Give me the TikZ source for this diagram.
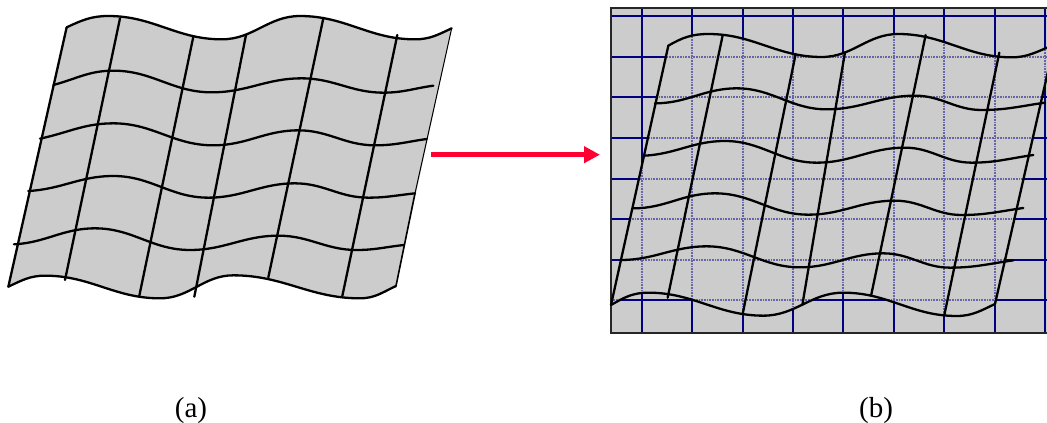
\documentclass[tikz,border=0pt]{standalone}
\usepackage{fontspec}
\setmainfont{Liberation Serif}
\usetikzlibrary{arrows.meta}
\definecolor{sheet}{HTML}{CCCCCC}
\definecolor{gridblue}{HTML}{000080}
\definecolor{arrowred}{HTML}{FF0033}
\tikzset{
  wave/.style={draw=black,line width=2.3pt,line cap=round},
  thinedge/.style={draw=black,line width=1pt},
  gridsolid/.style={draw=gridblue,line width=2.2pt},
  griddot/.style={draw=gridblue!50!sheet,line width=2.2pt,dash pattern=on 0.9pt off 0.7pt},
  caption/.style={font=\fontsize{29}{30}\selectfont,inner sep=0pt},
  fine/.style={x=0.33333pt,y=-0.33333pt},
  fw/.style={out=0,in=180},
  bk/.style={out=180,in=0}
}
% Outlines of the undistorted sheet
\newcommand{\ltop}{(200,82) to[out=25,in=180] (325,48) to[fw] (665,118) to[fw] (900,48) to[fw] (1245,118) to[out=0,in=205] (1355,85)}
\newcommand{\lbot}{(1188,858) to[out=205,in=0] (1080,895) to[bk] (700,826) to[bk] (480,895) to[bk] (135,827) to[out=180,in=25] (25,860)}
% Outlines of the sheet over the grid
\newcommand{\rtop}{(205,137) to[out=30,in=180] (325,102) to[fw] (665,171) to[fw] (895,102) to[fw] (1235,172) to[out=0,in=200] (1362,135)}
\newcommand{\rbot}{(1185,912) to[out=205,in=0] (1070,948) to[bk] (730,878) to[bk] (490,947) to[bk] (145,878) to[out=180,in=30] (33,915)}
% Blue reference grid
\newcommand{\rgrid}[1]{%
  \foreach \gx in {127,277,428,580,730,882,1033,1185,1336}
    \draw[#1] (\gx,25) -- (\gx,998);
  \foreach \gy in {48,171,292,414,536,658,779,901}
    \draw[#1] (33,\gy) -- (1345,\gy);
}
\begin{document}
\begin{tikzpicture}[x=1pt,y=-1pt]
\useasboundingbox (0,0) rectangle (1047,423);
\clip (0,0) rectangle (1047,423);

% Sheet before the transformation
\begin{scope}[fine]
  \fill[sheet] \ltop -- \lbot -- cycle;
  \draw[wave] (200,82) -- (25,860);
  \draw[thinedge] (1355,85) -- (1245,580);
  \draw[thinedge,line width=1.6pt] (1245,580) -- (1188,858);
  \draw[wave] (360,55) -- (195,840);
  \draw[wave] (580,110) -- (418,887);
  \draw[wave] (738,105) -- (583,890);
  \draw[wave] (970,55) -- (805,832);
  \draw[wave] (1192,105) -- (1027,888);
  \draw[wave] \ltop;
  \draw[wave] \lbot;
  \draw[wave] (160,255) to[out=15,in=180] (340,212) to[fw] (635,277) to[fw] (905,235) to[fw] (1150,278) to[out=0,in=188] (1300,257);
  \draw[wave] (120,416) to[out=12,in=180] (340,370) to[fw] (640,436) to[fw] (895,391) to[fw] (1125,436) to[out=0,in=188] (1280,417);
  \draw[wave] (85,573) to[out=3,in=180] (340,528) to[fw] (625,593) to[fw] (885,550) to[fw] (1105,593) to[out=0,in=186] (1245,580);
  \draw[wave] (42,733) to[out=3,in=180] (285,685) to[fw] (570,750) to[fw] (835,707) to[fw] (1070,750) to[out=0,in=186] (1212,735);
\end{scope}

% Sheet laid over the grid
\begin{scope}[shift={(600pt,0pt)},fine]
  \fill[sheet] (33,25) rectangle (1345,998);
  \rgrid{gridsolid}
  \draw[black!85,line width=2.2pt] (1345,25) -- (33,25) -- (33,998) -- (1345,998);
  \fill[sheet] \rtop -- \rbot -- cycle;
  \begin{scope}
    \clip \rtop -- \rbot -- cycle;
    \rgrid{griddot}
  \end{scope}
  \draw[wave] (205,137) -- (33,915);
  \draw[wave] (368,106) -- (203,893);
  \draw[wave] (587,162) -- (428,942);
  \draw[wave] (735,157) -- (607,915);
  \draw[wave] (977,105) -- (813,888);
  \draw[wave] (1198,158) -- (1033,945);
  \draw[wave] (1362,135) -- (1185,912);
  \draw[wave] \rtop;
  \draw[wave] \rbot;
  \draw[wave] (165,310) to[out=0,in=180] (410,265) to[fw] (680,328) to[fw] (945,287) to[fw] (1145,330) to[out=0,in=188] (1335,308);
  \draw[wave] (133,467) to[out=3,in=180] (375,423) to[fw] (650,488) to[fw] (915,443) to[fw] (1115,488) to[out=0,in=188] (1300,465);
  \draw[wave] (100,625) to[out=0,in=180] (345,580) to[fw] (625,644) to[fw] (885,602) to[fw] (1085,645) to[out=0,in=188] (1270,624);
  \draw[wave] (62,780) to[out=0,in=180] (320,739) to[fw] (600,802) to[fw] (850,760) to[fw] (1050,803) to[out=0,in=188] (1240,781);
\end{scope}

% Arrow between the two sheets
\coordinate (from) at (431,154.7);
\coordinate (to) at (600,154.7);
\draw[arrowred,line width=5pt,-{Triangle[length=16pt,width=16pt]}] (from) -- (to);

% Captions
\node[caption] (capa) at (191,411) {(a)};
\node[caption] (capb) at (876,411) {(b)};
\end{tikzpicture}
\end{document}
